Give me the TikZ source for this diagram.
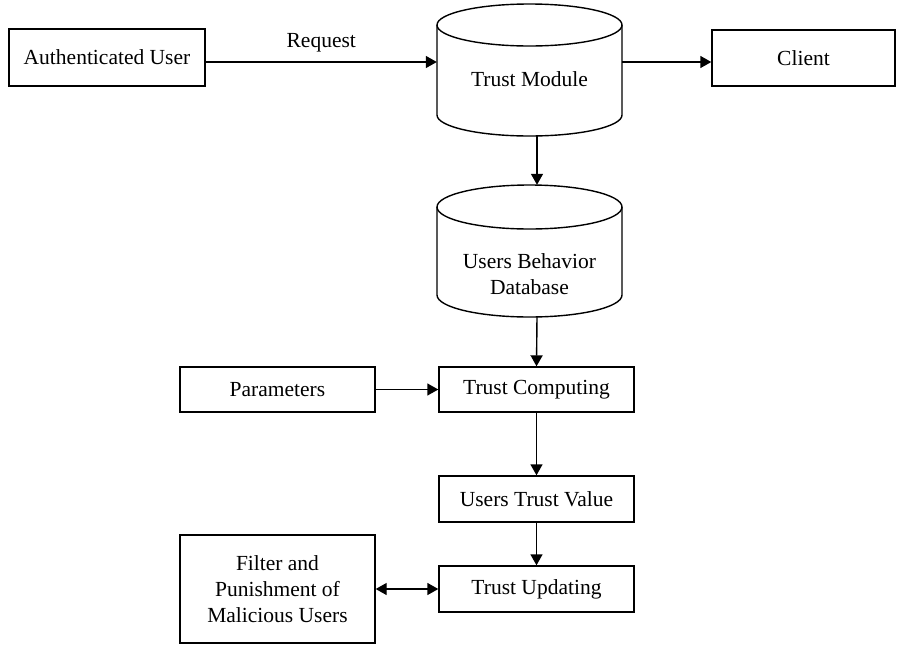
\documentclass[tikz,border=0pt]{standalone}
\usepackage{fontspec}
\setmainfont{Liberation Serif}
\usetikzlibrary{arrows.meta}
\begin{document}
\begin{tikzpicture}[x=1pt,y=-1pt,
  lw/.style={line width=1.4pt},
  box/.style={draw,lw,rectangle,inner sep=0pt,align=center,font=\fontsize{21.5}{26}\selectfont},
  cylbox/.style={rectangle,inner sep=0pt,minimum width=185,minimum height=132},
  txt/.style={align=center,inner sep=0pt,font=\fontsize{21.5}{26}\selectfont},
  arr/.style={lw,-{Triangle[length=11pt,width=12pt]}},
  darr/.style={lw,{Triangle[length=11pt,width=12pt]}-{Triangle[length=11pt,width=12pt]}}
]
\useasboundingbox (0,0) rectangle (897,646);
% boxes
\node[box,minimum width=196,minimum height=57] (auth) at (107,57.5) {Authenticated User};
\node[box,minimum width=183,minimum height=56] (client) at (803.5,58) {Client};
\node[box,minimum width=195,minimum height=45] (params) at (277.5,389.5) {Parameters};
\node[box,minimum width=195,minimum height=45] (tc) at (536.5,389.5) {Trust Computing};
\node[box,minimum width=195,minimum height=46] (utv) at (536.5,499) {Users Trust Value};
\node[box,minimum width=195,minimum height=46] (tu) at (536.5,589) {Trust Updating};
\node[box,minimum width=195,minimum height=108] (filter) at (277.5,589) {Filter and\\Punishment of\\Malicious Users};
% cylinders
\node[cylbox] (tm) at (529.5,70) {};
\node[cylbox] (ubd) at (529.5,251) {};
\draw[lw] (437,25) -- (437,115) arc[start angle=180,end angle=0,x radius=92.5,y radius=21] -- (622,25);
\draw[lw] (529.5,25) ellipse[x radius=92.5,y radius=21];
\draw[lw] (437,207) -- (437,295) arc[start angle=180,end angle=0,x radius=92.5,y radius=22] -- (622,207);
\draw[lw] (529.5,207) ellipse[x radius=92.5,y radius=22];
\node[txt] (tmtext) at (529.5,79) {Trust Module};
\node[txt] (ubdtext) at (529.5,274) {Users Behavior\\Database};
% connectors
\draw[arr] ([yshift=-4.5]auth.east) -- node[txt,above=9pt] (req) {Request} ([yshift=-4.5]auth.east -| tm.west);
\draw[arr] ([yshift=-4]client.west -| tm.east) -- ([yshift=-4]client.west);
\draw[arr] ([xshift=7.5]tm.south) -- ([xshift=7.5]ubd.north);
\draw[arr] ([xshift=7.5]ubd.south) -- (tc.north);
\draw[arr] (params.east) -- (tc.west);
\draw[arr] (tc.south) -- (utv.north);
\draw[arr] (utv.south) -- (tu.north);
\draw[darr] (filter.east) -- (tu.west);
\end{tikzpicture}
\end{document}
